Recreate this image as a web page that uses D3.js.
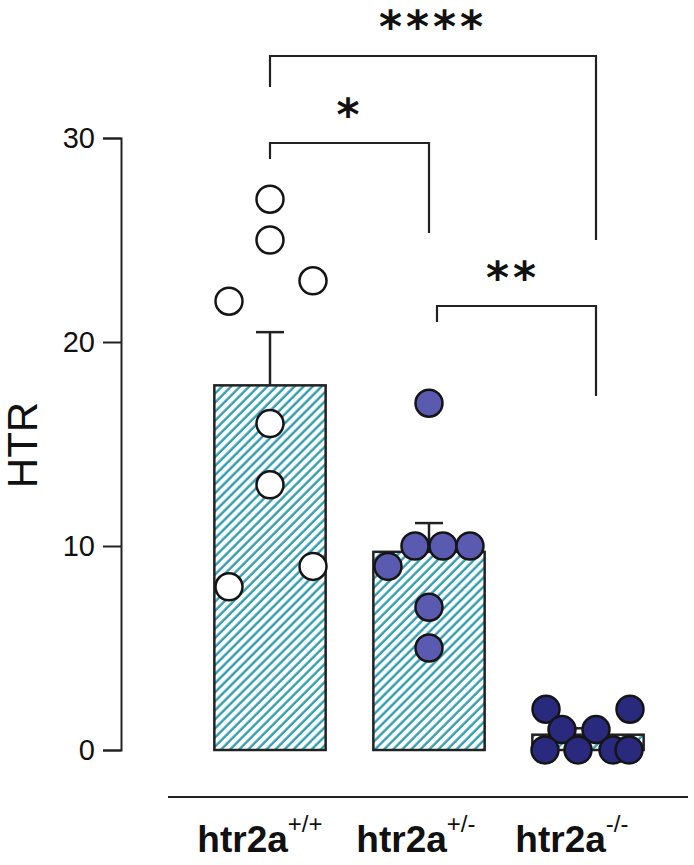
<!DOCTYPE html>
<html><head><meta charset="utf-8">
<script src="https://cdn.jsdelivr.net/npm/d3@7"></script>
<style>body{margin:0;background:#fff}svg{display:block}</style>
</head><body>
<script>
// ---- data ----
const categories = ["+/+", "+/-", "-/-"];
const valuesWT  = [27, 25, 22, 23, 16, 13, 8, 9];
const valuesHet = [17, 9, 10, 10, 10, 7, 5];
const valuesKO  = [2, 2, 1, 1, 0, 0, 0, 0];
const yTicks = [0, 10, 20, 30];
const yLabel = "HTR";
const labelBase = "htr2a";
const comparisons = [
  {a: "+/+", b: "-/-", label: "****"},
  {a: "+/+", b: "+/-", label: "*"},
  {a: "+/-", b: "-/-", label: "**"}
];
// layout: horizontal jitter of each point (px), per group
const jitterWT  = [0, 0, -41, 43, 0, 0, -41, 43];
const jitterHet = [0, -41, -14, 14, 41, 0, 0];
const jitterKO  = [-42, 42, -26, 8, -43, -10, 25, 41];

const groups = [
  {cat: "+/+", values: valuesWT, jitter: jitterWT, fill: "#ffffff"},
  {cat: "+/-", values: valuesHet, jitter: jitterHet, fill: "#5a5ab0"},
  {cat: "-/-", values: valuesKO, jitter: jitterKO, fill: "#29297e"}
];
groups.forEach(g => {
  g.mean = d3.mean(g.values);
  g.sem = d3.deviation(g.values) / Math.sqrt(g.values.length);
});

const W = 694, H = 865;
const svg = d3.select("body").append("svg").attr("width", W).attr("height", H);
const defs = svg.append("defs");
const pat = defs.append("pattern").attr("id", "hatch")
  .attr("patternUnits", "userSpaceOnUse").attr("width", 6.4).attr("height", 10)
  .attr("patternTransform", "rotate(45)");
pat.append("rect").attr("width", 6.4).attr("height", 10).attr("fill", "#fff");
pat.append("line").attr("x1", 1.5).attr("x2", 1.5).attr("y1", -1).attr("y2", 11)
  .attr("stroke", "#2a9aae").attr("stroke-width", 2.3);

const y = d3.scaleLinear().domain([0, 30]).range([750, 138]);
const x = d3.scaleBand().domain(categories).range([190.5, 667.5])
  .paddingInner(0.3).paddingOuter(0.15);
const cx = c => x(c) + x.bandwidth() / 2;

// y axis
const yAxis = svg.append("g").attr("transform", "translate(121,0)")
  .call(d3.axisLeft(y).tickValues(yTicks).tickSize(18).tickPadding(8).tickFormat(d3.format("d")));
yAxis.select(".domain").attr("stroke", "#222").attr("stroke-width", 2);
yAxis.selectAll(".tick line").attr("stroke", "#222").attr("stroke-width", 2);
yAxis.selectAll(".tick text").attr("font-family", "Liberation Sans, Arial, sans-serif")
  .attr("font-size", 29).attr("fill", "#111");

svg.append("text").attr("transform", "translate(37,445) rotate(-90)")
  .attr("text-anchor", "middle").attr("font-family", "Liberation Sans, Arial, sans-serif")
  .attr("font-size", 42).attr("fill", "#111").text(yLabel);

// bottom line (x axis)
svg.append("line").attr("x1", 168).attr("x2", 688).attr("y1", 797).attr("y2", 797)
  .attr("stroke", "#222").attr("stroke-width", 2);

// bars
svg.selectAll("rect.bar").data(groups).join("rect").attr("class", "bar")
  .attr("x", d => x(d.cat)).attr("width", x.bandwidth())
  .attr("y", d => y(d.mean)).attr("height", d => y(0) - y(d.mean))
  .attr("fill", "url(#hatch)").attr("stroke", "#222").attr("stroke-width", 2.5);

// error bars
const eb = svg.selectAll("g.eb").data(groups).join("g").attr("class", "eb")
  .attr("stroke", "#222").attr("stroke-width", 2.5);
eb.append("line").attr("x1", d => cx(d.cat)).attr("x2", d => cx(d.cat))
  .attr("y1", d => y(d.mean)).attr("y2", d => y(d.mean + d.sem));
eb.append("line").attr("x1", d => cx(d.cat) - 14).attr("x2", d => cx(d.cat) + 14)
  .attr("y1", d => y(d.mean + d.sem)).attr("y2", d => y(d.mean + d.sem));

// points
groups.forEach(g => {
  svg.append("g").selectAll("circle").data(g.values).join("circle")
    .attr("cx", (v, i) => cx(g.cat) + g.jitter[i]).attr("cy", v => y(v))
    .attr("r", 13.5).attr("fill", g.fill).attr("stroke", "#151515").attr("stroke-width", 2.5);
});

// significance brackets
const brk = [
  {c: comparisons[0], top: 56, ya: 87, yb: 240, tx: 433, ty: 42},
  {c: comparisons[1], top: 143, ya: 159, yb: 233, tx: 350, ty: 130},
  {c: comparisons[2], top: 306, ya: 322, yb: 396, tx: 513, ty: 293}
];
brk.forEach(b => {
  const x1 = cx(b.c.a) + (b.c.a === "+/-" ? 8 : 0), x2 = cx(b.c.b) + (b.c.b === "-/-" ? 8 : 0);
  svg.append("path")
    .attr("d", `M${x1},${b.ya}V${b.top}H${x2}V${b.yb}`)
    .attr("fill", "none").attr("stroke", "#222").attr("stroke-width", 2.2);
  svg.append("text").attr("x", b.tx).attr("y", b.ty).attr("text-anchor", "middle")
    .attr("font-family", "DejaVu Sans, sans-serif").attr("font-size", 44).attr("font-weight", "bold")
    .attr("letter-spacing", 4).attr("fill", "#111").text(b.c.label);
});

// x labels
groups.forEach(g => {
  const t = svg.append("text").attr("x", x(g.cat) - 17).attr("y", 852)
    .attr("font-family", "Liberation Sans, Arial, sans-serif").attr("font-weight", "bold")
    .attr("font-size", 37).attr("fill", "#111");
  t.append("tspan").text(labelBase);
  t.append("tspan").attr("dy", -20).attr("font-size", 24).attr("font-weight", "normal").text(g.cat);
});
</script>
</body></html>
